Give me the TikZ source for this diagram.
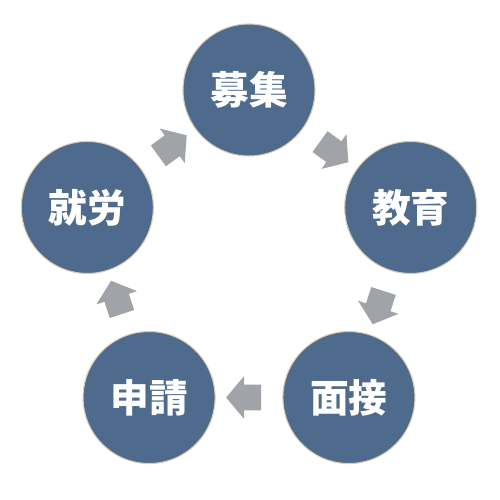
\documentclass[tikz,border=0pt]{standalone}
\usepackage{fontspec}
\newfontfamily\jpfont{Noto Sans CJK JP}
\usetikzlibrary{shapes.arrows,calc}
\definecolor{circblue}{RGB}{78,106,141}
\definecolor{circrim}{RGB}{216,207,180}
\definecolor{arrgray}{RGB}{160,164,168}
\tikzset{
	cyclenode/.style={circle,fill=circblue,draw=circrim,line width=0.6pt,minimum size=2.64cm,inner sep=0pt,
		text=white,font=\jpfont\bfseries\fontsize{22}{24}\selectfont},
	cyclearrow/.style={single arrow,fill=arrgray,draw=none,minimum height=0.7cm,inner xsep=0pt,inner ysep=0.25cm,
		single arrow head extend=0.17cm,single arrow tip angle=100,single arrow head indent=0pt,
		sloped,allow upside down}
}
\begin{document}
\begin{tikzpicture}
	\useasboundingbox (0,0) rectangle (10,10);
	\coordinate (mid) at (4.98,4.8);
	\foreach \a/\n/\t in {90/bosyu/募集,18/kyoiku/教育,-54/mensetsu/面接,-126/shinsei/申請,162/shuro/就労}{
		\node[cyclenode] (\n) at ($(mid)+(\a:3.4)$) {\t};
	}
	\foreach \s/\e in {bosyu/kyoiku,kyoiku/mensetsu,mensetsu/shinsei,shinsei/shuro,shuro/bosyu}{
		\path (\s) -- node[cyclearrow]{} (\e);
	}
\end{tikzpicture}
\end{document}
